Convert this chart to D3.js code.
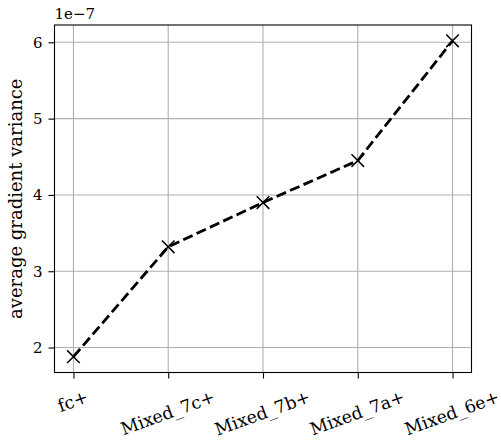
<!DOCTYPE html>
<html>
<head>
<meta charset="utf-8">
<script src="https://cdn.jsdelivr.net/npm/d3@7"></script>
<style>
  body { margin: 0; background: #fff; }
  svg text { font-family: "DejaVu Serif", serif; fill: #000; }
</style>
</head>
<body>
<svg id="chart" width="501" height="440"></svg>
<script>
// layers probed, in plot order
var layers = ["fc+", "Mixed_7c+", "Mixed_7b+", "Mixed_7a+", "Mixed_6e+"];
// average gradient variance, in units of 1e-7
var variance = [1.88, 3.32, 3.90, 4.45, 6.02];
var yTicks = [2, 3, 4, 5, 6];

var svg = d3.select("#chart");

var plotLeft = 54.5, plotRight = 471.5, plotTop = 25, plotBottom = 372.5;
var tickFont = 15, labelFont = 18, xLabelFont = 17.4;

// matplotlib style 5% margins
var x = d3.scaleLinear()
    .domain([-0.2, layers.length - 1 + 0.2])
    .range([plotLeft, plotRight]);

var yPad = (d3.max(variance) - d3.min(variance)) * 0.05;
var y = d3.scaleLinear()
    .domain([d3.min(variance) - yPad, d3.max(variance) + yPad])
    .range([plotBottom, plotTop]);

// grid
svg.append("g")
    .selectAll("line")
    .data(layers)
    .enter()
    .append("line")
    .attr("x1", function(d, i) { return x(i); })
    .attr("x2", function(d, i) { return x(i); })
    .attr("y1", plotTop)
    .attr("y2", plotBottom)
    .attr("stroke", "#b0b0b0")
    .attr("stroke-width", 1.1);

svg.append("g")
    .selectAll("line")
    .data(yTicks)
    .enter()
    .append("line")
    .attr("x1", plotLeft)
    .attr("x2", plotRight)
    .attr("y1", function(d) { return y(d); })
    .attr("y2", function(d) { return y(d); })
    .attr("stroke", "#b0b0b0")
    .attr("stroke-width", 1.1);

// axes
var xAxis = d3.axisBottom(x)
    .tickValues(d3.range(layers.length))
    .tickFormat(function(d) { return layers[d]; })
    .tickSize(6)
    .tickPadding(4);

var gx = svg.append("g")
    .attr("transform", "translate(0," + plotBottom + ")")
    .call(xAxis);
gx.select(".domain").remove();
gx.selectAll(".tick line").attr("stroke", "#000").attr("stroke-width", 1.1);

// rotated labels: top of the rotated box sits at a fixed offset, like matplotlib
var ang = 20 * Math.PI / 180;
gx.selectAll(".tick text")
    .attr("font-size", xLabelFont)
    .attr("font-family", "DejaVu Serif")
    .attr("text-anchor", "middle")
    .attr("dominant-baseline", "central")
    .attr("y", 0)
    .attr("dy", 0)
    .attr("transform", function() {
        var w = this.getComputedTextLength();
        var h = xLabelFont * 1.16;
        var boxH = w * Math.sin(ang) + h * Math.cos(ang);
        return "translate(-1," + (14 + boxH / 2) + ") rotate(-20)";
    });

var yAxis = d3.axisLeft(y)
    .tickValues(yTicks)
    .tickFormat(d3.format("d"))
    .tickSize(6)
    .tickPadding(6);

var gy = svg.append("g")
    .attr("transform", "translate(" + plotLeft + ",0)")
    .call(yAxis);
gy.select(".domain").remove();
gy.selectAll(".tick line").attr("stroke", "#000").attr("stroke-width", 1.1);
gy.selectAll(".tick text")
    .attr("font-size", tickFont)
    .attr("font-family", "DejaVu Serif");

// frame
svg.append("rect")
    .attr("x", plotLeft)
    .attr("y", plotTop)
    .attr("width", plotRight - plotLeft)
    .attr("height", plotBottom - plotTop)
    .attr("fill", "none")
    .attr("stroke", "#000")
    .attr("stroke-width", 1.1);

// dashed line
var line = d3.line()
    .x(function(d, i) { return x(i); })
    .y(function(d) { return y(d); });

svg.append("path")
    .datum(variance)
    .attr("d", line)
    .attr("fill", "none")
    .attr("stroke", "#000")
    .attr("stroke-width", 2.8)
    .attr("stroke-dasharray", "10.3,4.4");

// x markers
var m = 6.3;
var markers = svg.append("g")
    .selectAll("g")
    .data(variance)
    .enter()
    .append("g")
    .attr("transform", function(d, i) {
        return "translate(" + x(i) + "," + y(d) + ")";
    });
markers.append("path")
    .attr("d", "M" + (-m) + "," + (-m) + "L" + m + "," + m +
               "M" + (-m) + "," + m + "L" + m + "," + (-m))
    .attr("stroke", "#000")
    .attr("stroke-width", 1.5)
    .attr("fill", "none");

// offset text and y label
svg.append("text")
    .attr("x", plotLeft)
    .attr("y", 19)
    .attr("font-size", tickFont)
    .text("1e\u22127");

svg.append("text")
    .attr("transform", "translate(22," + ((plotTop + plotBottom) / 2) + ") rotate(-90)")
    .attr("text-anchor", "middle")
    .attr("font-size", labelFont)
    .text("average gradient variance");
</script>
</body>
</html>
